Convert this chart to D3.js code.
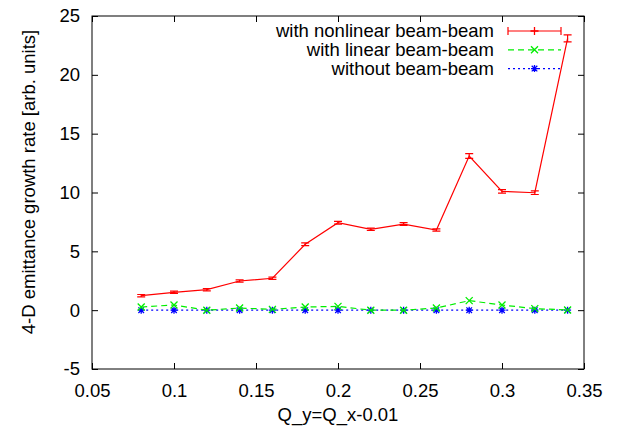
<!DOCTYPE html>
<html lang="en">
<head>
  <meta charset="UTF-8">
  <title>Emittance growth rate</title>
  <style>
    body {
      margin: 0;
      background: #fff;
    }
    text {
      font-family: "Liberation Sans", Arial, sans-serif;
      font-size: 18.5px;
      fill: #000;
    }
  </style>
</head>
<body>
<div id="chart"></div>
<script src="https://d3js.org/d3.v7.js"></script>
<script type="text/javascript">

  // data
  var qValues = [0.08, 0.10, 0.12, 0.14, 0.16, 0.18, 0.20, 0.22, 0.24, 0.26, 0.28, 0.30, 0.32, 0.34];
  var nonlinearRate = [1.23, 1.52, 1.74, 2.48, 2.71, 5.60, 7.43, 6.87, 7.32, 6.81, 13.1, 10.1, 9.98, 23.1];
  var nonlinearErr = [0.1, 0.1, 0.1, 0.1, 0.1, 0.12, 0.12, 0.1, 0.12, 0.1, 0.2, 0.15, 0.15, 0.3];
  var linearRate = [0.27, 0.44, 0.0, 0.18, 0.07, 0.27, 0.32, 0.0, 0.0, 0.18, 0.81, 0.44, 0.13, 0.02];
  var noBeamRate = [0.0, 0.0, 0.0, 0.0, 0.0, 0.0, 0.0, 0.0, 0.0, 0.0, 0.0, 0.0, 0.0, 0.0];
  var seriesNames = ["with nonlinear beam-beam", "with linear beam-beam", "without beam-beam"];
  var xTicks = [0.05, 0.1, 0.15, 0.2, 0.25, 0.3, 0.35];
  var yTicks = [-5, 0, 5, 10, 15, 20, 25];

  //Width and height
  var w = 620;
  var h = 431;
  var margin = {top: 16, right: 36, bottom: 62, left: 92};
  var innerWidth = w - margin.left - margin.right;
  var innerHeight = h - margin.top - margin.bottom;

  var svg = d3.select("#chart")
          .append("svg")
          .attr("width", w)
          .attr("height", h);

  var plot = svg.append("g")
          .attr("id", "plot")
          .attr("transform", `translate(${margin.left}, ${margin.top})`);

  // scales
  var xScale = d3.scaleLinear()
          .domain([0.05, 0.35])
          .range([0, innerWidth]);

  var yScale = d3.scaleLinear()
          .domain([-5, 25])
          .range([innerHeight, 0]);

  // axes: gnuplot style, ticks pointing in, mirrored
  var tickLen = 6;
  var plainFmt = d => String(d);

  plot.append("g")
          .attr("transform", `translate(0, ${innerHeight})`)
          .call(d3.axisBottom(xScale).tickValues(xTicks).tickSize(-tickLen).tickPadding(15).tickFormat(plainFmt))
          .call(g => g.select(".domain").remove());

  plot.append("g")
          .call(d3.axisTop(xScale).tickValues(xTicks).tickSize(-tickLen))
          .call(g => g.select(".domain").remove())
          .call(g => g.selectAll("text").remove());

  plot.append("g")
          .call(d3.axisLeft(yScale).tickValues(yTicks).tickSize(-tickLen).tickPadding(12).tickFormat(plainFmt))
          .call(g => g.select(".domain").remove());

  plot.append("g")
          .attr("transform", `translate(${innerWidth}, 0)`)
          .call(d3.axisRight(yScale).tickValues(yTicks).tickSize(-tickLen))
          .call(g => g.select(".domain").remove())
          .call(g => g.selectAll("text").remove());

  plot.selectAll(".tick line").attr("stroke", "#000");
  plot.selectAll(".tick text")
          .style("font-size", "18.5px")
          .style("font-family", "'Liberation Sans', Arial, sans-serif")
          .attr("fill", "#000");

  // frame
  plot.append("rect")
          .attr("width", innerWidth)
          .attr("height", innerHeight)
          .attr("fill", "none")
          .attr("stroke", "#000")
          .attr("stroke-width", 1);

  // axis labels
  svg.append("text")
          .attr("x", margin.left + innerWidth / 2)
          .attr("y", 421)
          .attr("text-anchor", "middle")
          .text("Q_y=Q_x-0.01");

  svg.append("text")
          .attr("transform", "translate(35, 182) rotate(-90)")
          .attr("text-anchor", "middle")
          .text("4-D emittance growth rate [arb. units]");

  // marker shapes
  function plusPath(s) {
    return `M${-s},0H${s}M0,${-s}V${s}`;
  }
  function crossPath(s) {
    return `M${-s},${-s}L${s},${s}M${-s},${s}L${s},${-s}`;
  }
  function starPath(s) {
    return plusPath(s) + crossPath(s * 0.8);
  }

  var series = [
    {name: seriesNames[0], values: nonlinearRate, err: nonlinearErr, color: "#ff0000", dash: null, marker: plusPath(4)},
    {name: seriesNames[1], values: linearRate, err: null, color: "#00ee00", dash: "6,4", marker: crossPath(3.5)},
    {name: seriesNames[2], values: noBeamRate, err: null, color: "#0000ff", dash: "2,3", marker: starPath(3.5)}
  ];

  var line = d3.line()
          .x(d => xScale(d.x))
          .y(d => yScale(d.y));

  // draw bottom series first so red sits on top
  series.slice().reverse().forEach(function(s) {
    var pts = qValues.map((q, i) => ({x: q, y: s.values[i], e: s.err ? s.err[i] : 0}));
    var g = plot.append("g");

    g.append("path")
            .datum(pts)
            .attr("d", line)
            .attr("fill", "none")
            .attr("stroke", s.color)
            .attr("stroke-width", 1.2)
            .attr("stroke-dasharray", s.dash);

    if (s.err) {
      // error bars with caps
      g.selectAll(".err")
              .data(pts)
              .enter()
              .append("path")
              .attr("d", d => {
                var x = xScale(d.x), y0 = yScale(d.y - d.e), y1 = yScale(d.y + d.e);
                return `M${x},${y0}V${y1}M${x - 4},${y0}H${x + 4}M${x - 4},${y1}H${x + 4}`;
              })
              .attr("stroke", s.color)
              .attr("stroke-width", 1.2)
              .attr("fill", "none");
    } else {
      g.selectAll(".mk")
              .data(pts)
              .enter()
              .append("path")
              .attr("transform", d => `translate(${xScale(d.x)}, ${yScale(d.y)})`)
              .attr("d", s.marker)
              .attr("stroke", s.color)
              .attr("stroke-width", 1.3)
              .attr("fill", "none");
    }
  });

  // legend
  var legendX0 = 508, legendX1 = 561, textRight = 494;
  series.forEach(function(s, i) {
    var y = 31 + i * 18.8;
    var lg = svg.append("g");
    lg.append("text")
            .attr("x", textRight)
            .attr("y", y + 6)
            .attr("text-anchor", "end")
            .text(s.name);
    lg.append("line")
            .attr("x1", legendX0).attr("x2", legendX1)
            .attr("y1", y).attr("y2", y)
            .attr("stroke", s.color)
            .attr("stroke-width", 1.2)
            .attr("stroke-dasharray", s.dash);
    if (s.err) {
      lg.append("path")
              .attr("d", `M${legendX0},${y - 4}V${y + 4}M${legendX1},${y - 4}V${y + 4}`)
              .attr("stroke", s.color)
              .attr("stroke-width", 1.2);
    }
    lg.append("path")
            .attr("transform", `translate(${(legendX0 + legendX1) / 2}, ${y})`)
            .attr("d", s.marker)
            .attr("stroke", s.color)
            .attr("stroke-width", 1.3)
            .attr("fill", "none");
  });

</script>
</body>
</html>
